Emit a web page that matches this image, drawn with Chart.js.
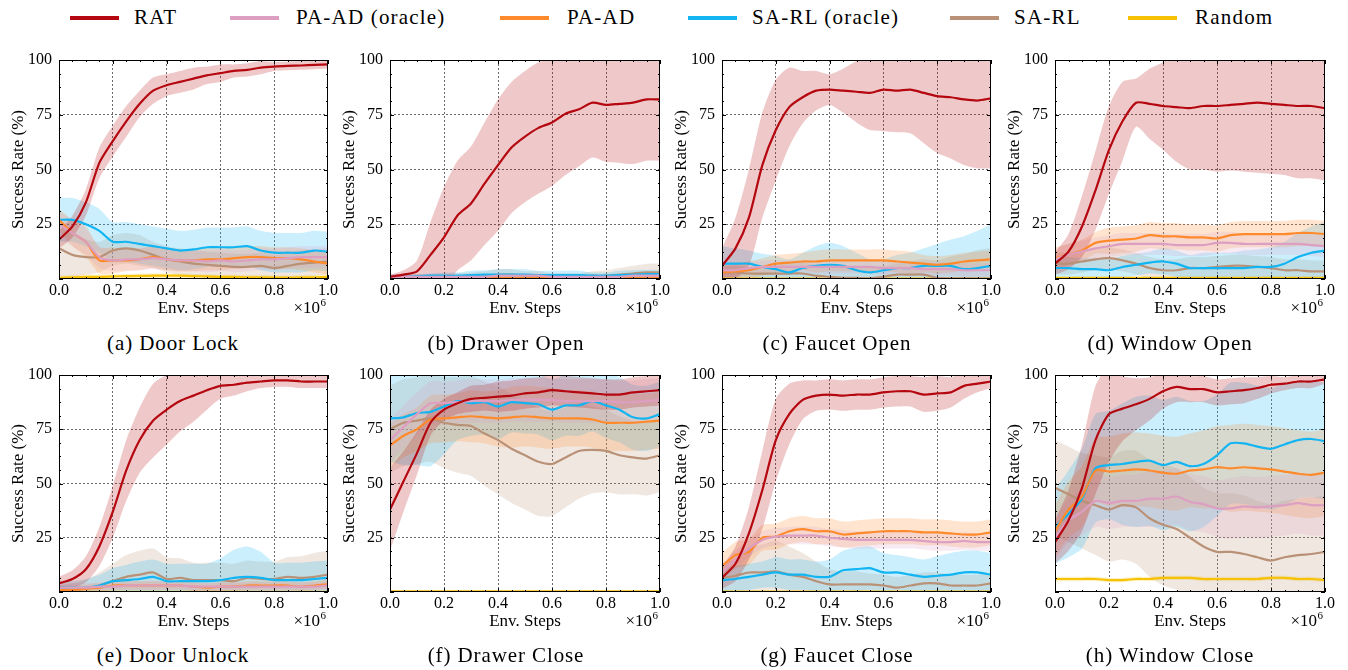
<!DOCTYPE html>
<html>
<head>
<meta charset="utf-8">
<script src="https://cdn.jsdelivr.net/npm/chart.js@4.4.1/dist/chart.umd.min.js"></script>
<style>
  html, body { margin:0; padding:0; background:#fff; }
  body { width:1348px; height:670px; position:relative; overflow:hidden; font-family:"Liberation Serif", "Times New Roman", serif; color:#000; }
  canvas { position:absolute; }
  .leg-line { position:absolute; height:4px; top:16px; }
  .leg-text { position:absolute; top:4px; font-size:21px; line-height:26px; letter-spacing:1.2px; white-space:nowrap; }
  .caption { position:absolute; font-size:21px; line-height:24px; letter-spacing:0.9px; white-space:nowrap; transform:translateX(-50%); }
</style>
</head>
<body>
<script>
// ---------------- data ----------------
const steps = [0,0.05,0.1,0.15,0.2,0.25,0.3,0.35,0.4,0.45,0.5,0.55,0.6,0.65,0.7,0.75,0.8,0.85,0.9,0.95,1.0];
const seriesNames = ['RAT','PA-AD (oracle)','PA-AD','SA-RL (oracle)','SA-RL','Random'];
const seriesColors = ['#b5070f','#dc9fc2','#ff8a2b','#12b5f2','#b99176','#f7c204'];
const panelTitles = ['(a) Door Lock','(b) Drawer Open','(c) Faucet Open','(d) Window Open','(e) Door Unlock','(f) Drawer Close','(g) Faucet Close','(h) Window Close'];
const xTickValues = [0,0.2,0.4,0.6,0.8,1.0];
const yTickValues = [25,50,75,100];

// (a) Door Lock
const doorLockRAT   = [18,24,35,53,63,72,80,86,88.5,90,91.5,93,94,95,95.5,96.5,97,97.3,97.5,97.8,98];
const doorLockRATsd = [4,5,6,7,7,7,6,6,5,5,5,4,4,3,3,3,2,2,2,2,2];
const doorLockPAo   = [25,21,17,10,8.5,9,9,9.5,9,8.5,8.5,8,8.5,8,8.5,9,9,9.5,10,10,10];
const doorLockPAosd = [6,6,6,5,5,5,5,5,5,5,5,5,5,5,5,5,5,5,5,5,5];
const doorLockPA    = [27,21,17,8.5,8.5,8.5,9,10,9,8.5,8.5,9,9,9.5,10,10,9.5,9.5,9,8,7];
const doorLockPAsd  = [5,6,7,6,6,5,5,5,5,5,5,5,5,5,5,5,5,5,5,5,5];
const doorLockSAo   = [27,27,25,22,17,17,16,15,14,13,13.5,14.5,14.5,14.5,15,13,12,12,12,13,12.5];
const doorLockSAosd = [10,10,10,10,9,9,9,9,9,9,9,9,9,9,9,9,9,9,9,9,9];
const doorLockSA    = [14,11,10,10,13,14,13,11,9,8,7,6.5,6,5.5,5.5,6,5,6,7,7.5,8];
const doorLockSAsd  = [13,10,8,7,7,7,7,6,6,6,6,6,6,6,6,6,6,6,6,6,6];
const doorLockRnd   = [0.5,0.8,1,1,1.2,1.3,1.4,1.5,1.5,1.5,1.3,1.2,1,1,0.8,0.8,0.6,0.6,0.7,0.8,1];
const doorLockRndsd = [1,1,1,1,1,1,1,1,1,1,1,1,1,1,1,1,1,1,1,1,1];

// (b) Drawer Open
const drawerOpenRAT   = [1,2,3.5,11,19,29,34.5,43.5,52,60,65,69,71.5,75.5,77.5,80.5,79.5,80,80.5,82,82];
const drawerOpenRATsd = [1,2,5,15,23,25,26,28,30,30,30,30,29,28,26,25,26,27,28,28,28];
const drawerOpenPAo   = [1,1,1,1,1,1,1,1,1.5,1.5,1.5,1.5,1,1,1,1,1,1,1.5,1.5,1.5];
const drawerOpenPAosd = [1,1,1,1,1,1,1,1,1,1,1,1,1,1,1,1,1,1,1,1,1];
const drawerOpenPA    = [0.5,0.5,0.5,0.5,0.5,0.5,0.5,0.5,0.5,0.5,0.5,0.5,0.5,0.5,0.5,0.5,0.5,0.5,0.5,0.5,0.5];
const drawerOpenPAsd  = [0.5,0.5,0.5,0.5,0.5,0.5,0.5,0.5,0.5,0.5,0.5,0.5,0.5,0.5,0.5,0.5,0.5,0.5,0.5,0.5,0.5];
const drawerOpenSAo   = [1,1,1.2,1.5,1.5,1.5,1.8,2,2,2,2,1.8,1.8,1.8,1.8,1.5,1.5,1.8,2,2.2,2.2];
const drawerOpenSAosd = [1,1,1,1,1.5,1.5,2,2,2.5,2.5,2.5,2,2,2,2,1.5,1.5,2,2,2,2];
const drawerOpenSA    = [1,1,1,1,1,1.2,1.5,1.5,2,2,1.5,1.5,1.2,1.2,1.2,1.5,1.5,2,2.5,3,3];
const drawerOpenSAsd  = [1,1,1,1,1,1.5,1.5,2,2.5,2.5,2,2,1.5,1.5,1.5,2,2.5,3,3.5,4,4];
const drawerOpenRnd   = [0.1,0.1,0.1,0.1,0.1,0.1,0.1,0.1,0.1,0.1,0.1,0.1,0.1,0.1,0.1,0.1,0.1,0.1,0.1,0.1,0.1];
const drawerOpenRndsd = [0.3,0.3,0.3,0.3,0.3,0.3,0.3,0.3,0.3,0.3,0.3,0.3,0.3,0.3,0.3,0.3,0.3,0.3,0.3,0.3,0.3];

// (c) Faucet Open
const faucetOpenRAT   = [6,14,28,52,68,78.5,83,86,86.5,86,85.5,85,86.5,86,86.5,85,83.5,83,82,81.5,82.5];
const faucetOpenRATsd = [8,14,22,24,23,18,12,9,7,10,14,17,19,19,20,23,26,28,30,31,32];
const faucetOpenPAo   = [4,4,5,5.5,5.5,5.5,5.5,5.5,5.5,5.5,5.5,5.5,5,5,5,4.5,4.5,4.5,4,4,4];
const faucetOpenPAosd = [3,3,3,3,3,3,3,3,3,3,3,3,3,3,3,3,3,3,3,3,3];
const faucetOpenPA    = [3,3.5,4,5.5,7,7.5,8,8,8.5,8.5,8.5,8.5,8.5,8,7.5,7,6.5,7,8,8.5,9];
const faucetOpenPAsd  = [3,3,4,4,4,4,4,5,5,5,5,5,5,5,5,4,4,4,4,4,4];
const faucetOpenSAo   = [7,7,7,5.5,4.5,3,5,6,6.5,6,4,3,4,5,5,6,6,6,4.5,5,6];
const faucetOpenSAosd = [8,7,6,6,6,6,7,9,10,9,8,6,5,6,7,8,10,12,15,17,19];
const faucetOpenSA    = [3,3,2.5,2.5,2.5,2.5,2.5,1.5,1,0.5,0.5,0.3,1,2,2,2,0.5,0.3,0.3,0.2,0.2];
const faucetOpenSAsd  = [3,3,3,3,4,5,5,5,5,5,5,5,5,5,6,7,8,10,11,13,14];
const faucetOpenRnd   = [0.2,0.2,0.2,0.2,0.2,0.2,0.2,0.2,0.2,0.2,0.2,0.2,0.2,0.2,0.2,0.2,0.2,0.2,0.2,0.2,0.2];
const faucetOpenRndsd = [0.3,0.3,0.3,0.3,0.3,0.3,0.3,0.3,0.3,0.3,0.3,0.3,0.3,0.3,0.3,0.3,0.3,0.3,0.3,0.3,0.3];

// (d) Window Open
const windowOpenRAT   = [7,12.5,24,40.5,59,72,80.5,80,79,78.5,78,79,79,79.5,80,80.5,80,79.5,79,79,78];
const windowOpenRATsd = [5,8,14,18,20,18,11,16,20,25,28,29,30,30,31,32,32,32,33,33,33];
const windowOpenPAo   = [9,11,12.5,14,15,16,16,16,16,15.5,15.5,15.5,16.5,16.5,16,16,16,16,16,15.5,15];
const windowOpenPAosd = [5,5,5,5,5,5,5,5,5,5,5,5,5,5,5,5,5,5,5,5,5];
const windowOpenPA    = [9.5,11,13,16.5,17.5,18,18.5,20,19.5,19.5,19,19,18.5,20,20.5,20.5,20.5,20.5,21,21,20.5];
const windowOpenPAsd  = [5,5,5,5,6,6,6,6,6,6,6,6,6,6,6,6,6,6,6,6,6];
const windowOpenSAo   = [5,5,4.5,4.5,4,5.5,6.5,7.5,8,7,5,5,5,5,5,5.5,5.5,7,10,12,13];
const windowOpenSAosd = [5,5,5,5,5,5,5,5,6,6,6,7,7,7,8,8,9,10,11,12,13];
const windowOpenSA    = [7,7,8,9,9.5,8.5,7,5,4,4,5,5,5.5,6,6,5.5,5,4,4,3.5,3.5];
const windowOpenSAsd  = [5,5,5,5,5,5,5,5,5,5,5,5,5,5,5,5,5,5,5,5,5];
const windowOpenRnd   = [0.5,0.5,0.5,0.5,0.5,0.5,0.5,0.5,0.5,0.5,0.5,0.5,0.5,0.5,0.5,0.5,0.5,0.5,0.5,0.5,0.5];
const windowOpenRndsd = [0.5,0.5,0.5,0.5,0.5,0.5,0.5,0.5,0.5,0.5,0.5,0.5,0.5,0.5,0.5,0.5,0.5,0.5,0.5,0.5,0.5];

// (e) Door Unlock
const doorUnlockRAT   = [4,6,10.5,21,37,56,70,79,84,88,90.5,93,95,95.5,96.5,97,97.5,97.5,97,97,97];
const doorUnlockRATsd = [3,4,6,9,12,14,15,17,16,14,12,9,6,5,4,3,3,3,3,3,3];
const doorUnlockPAo   = [2,2,2,2.5,2.5,3,3,3,3,3,2.5,2.5,2.5,2.5,2.5,2.5,2.5,2.5,2.5,2.5,3];
const doorUnlockPAosd = [2,2,2,2,2,2,2,2,2,2,2,2,2,2,2,2,2,2,2,2,2];
const doorUnlockPA    = [1,1,1.5,2,3,3,3,3,3,3,2.5,2,2.5,2.5,3,3,3,3,2.5,3,3.5];
const doorUnlockPAsd  = [2,2,2,2,2,2,2,2,2,2,2,2,2,2,2,2,2,2,2,2,2];
const doorUnlockSAo   = [2,2,2,3,5,5.5,6,7,5,5,5,5,5.5,6.5,7,6.5,5.5,5.5,5.5,6,6.5];
const doorUnlockSAosd = [3,3,4,5,6,7,8,8,8,8,8,8,10,13,14,12,8,8,8,8,8];
const doorUnlockSA    = [1,1,1.5,3,5,7,8,9,6,6.5,5.5,5.5,5.5,5,6.5,6,6,7,6.5,7,8];
const doorUnlockSAsd  = [2,3,4,6,8,10,11,11,10,9,8,8,8,8,8,8,8,9,10,11,11];
const doorUnlockRnd   = [0.1,0.1,0.1,0.1,0.1,0.1,0.1,0.1,0.1,0.1,0.1,0.1,0.1,0.1,0.1,0.1,0.1,0.1,0.1,0.1,0.1];
const doorUnlockRndsd = [0.3,0.3,0.3,0.3,0.3,0.3,0.3,0.3,0.3,0.3,0.3,0.3,0.3,0.3,0.3,0.3,0.3,0.3,0.3,0.3,0.3];

// (f) Drawer Close
const drawerCloseRAT   = [38,51,64,78,84,87,89,89.5,90,90.5,91.5,92,93,92.5,92,91.5,91,91,92,92.5,93];
const drawerCloseRATsd = [19,14,10,6,5,5,6,6,7,7,7,7,7,7,7,7,7,7,7,7,7];
const drawerClosePAo   = [70,76,82,87,87,87.5,88,88,88,88.5,88.5,88.5,88.5,88,88,88,88,87.5,87.5,88,88.5];
const drawerClosePAosd = [10,10,10,10,10,10,10,10,10,10,10,10,10,10,10,10,10,10,10,10,10];
const drawerClosePA    = [67.5,72,75,79.5,80,80.5,81,80.5,80,80.5,81,80.5,80,80,80,79.5,78,78,78,78.5,79];
const drawerClosePAsd  = [10,10,10,11,11,11,12,12,13,14,14,14,14,13,13,13,13,13,13,13,13];
const drawerCloseSAo   = [80,80.5,82.5,83,85.5,88,87,87.5,85.5,87.5,87,86.5,84,86,86,88,86,84,80.5,80,82];
const drawerCloseSAosd = [20,22,24,25,22,18,15,15,15,14,14,14,14,14,14,14,15,15,15,15,15];
const drawerCloseSA    = [75,78,79,80,78,77,76.5,73,70,66,63,60,59,62,65,65.5,65,63,62,61.5,63];
const drawerCloseSAsd  = [20,20,20,20,21,22,23,24,25,25,25,25,24,23,22,20,19,18,17,17,17];
const drawerCloseRnd   = [0.3,0.3,0.3,0.3,0.3,0.3,0.3,0.3,0.3,0.3,0.3,0.3,0.3,0.3,0.3,0.3,0.3,0.3,0.3,0.3,0.3];
const drawerCloseRndsd = [0.3,0.3,0.3,0.3,0.3,0.3,0.3,0.3,0.3,0.3,0.3,0.3,0.3,0.3,0.3,0.3,0.3,0.3,0.3,0.3,0.3];

// (g) Faucet Close
const faucetCloseRAT   = [6.5,13,27,47,70,82,88.5,90.5,91,90.5,91,91,92,92.5,92.5,91,91.5,92,95,96,97];
const faucetCloseRATsd = [5,8,12,18,19,14,9,7,7,7,7,7,7,7,7,8,8,7,6,4,3];
const faucetClosePAo   = [9,15,20,24,25.5,26,26,26,25,24.5,24,24,24,24,24,23.5,23,23,23.5,23,23];
const faucetClosePAosd = [4,4,4,4,4,4,4,4,4,4,4,4,4,4,4,4,4,4,4,4,4];
const faucetClosePA    = [12,17,18.5,25,25.5,28,29,28,28,26.5,27,27.5,28,28,28,27.5,27.5,27,26.5,26.5,27.5];
const faucetClosePAsd  = [6,6,6,6,6,6,6,6,6,6,6,6,6,6,6,6,6,6,6,6,6];
const faucetCloseSAo   = [5.5,6,7,8,9,8,8,7,7,10,10.5,11,9,9,8,7,7.5,8,9,9,8];
const faucetCloseSAosd = [5,6,6,6,7,7,7,7,8,9,10,10,9,8,8,8,9,10,10,10,10];
const faucetCloseSA    = [6.5,7.5,9,9,9.5,8,7,5,3.5,3.5,3.5,3.5,3,2,3,4,4,3,3,3,4];
const faucetCloseSAsd  = [6,8,11,13,14,13,11,9,7,6,6,5,5,5,5,5,5,5,5,5,5];
const faucetCloseRnd   = [0.2,0.2,0.2,0.2,0.2,0.2,0.2,0.2,0.2,0.2,0.2,0.2,0.2,0.2,0.2,0.2,0.2,0.2,0.2,0.2,0.2];
const faucetCloseRndsd = [0.3,0.3,0.3,0.3,0.3,0.3,0.3,0.3,0.3,0.3,0.3,0.3,0.3,0.3,0.3,0.3,0.3,0.3,0.3,0.3,0.3];

// (h) Window Close
const windowCloseRAT   = [23,33,48,70,82,84.5,86.5,89,92.5,94.5,93.5,93.5,92,92.5,93,94,95.5,96,97,97,98];
const windowCloseRATsd = [10,14,20,25,22,15,12,10,8,7,6,6,6,6,6,5,4,3,3,3,2];
const windowClosePAo   = [25,33,37,42,41,42,42,43,43,44,41.5,40.5,38.5,38.5,39.5,39,39.5,40,41,40,40];
const windowClosePAosd = [10,10,11,12,12,12,12,13,13,13,13,13,13,14,14,14,14,14,14,14,14];
const windowClosePA    = [28,38,44,56,55.5,56,56.5,56,55,54.5,56,56.5,57.5,57,57.5,57,56.5,55.5,54.5,54,55];
const windowClosePAsd  = [12,13,14,15,16,17,17,17,17,17,17,18,19,20,20,20,20,20,20,20,20];
const windowCloseSAo   = [30,36,43,57,58.5,59,60,60.5,58.5,60,58,59,63,68.5,68.5,67,66,68,70,70.5,69.5];
const windowCloseSAosd = [17,20,23,25,25,28,30,30,30,30,30,29,28,28,28,28,28,28,27,27,27];
const windowCloseSA    = [48,45,42,40,38,40,39,34,31,29,25,21,18.5,18.5,17.5,16,14.5,16,17,17.5,18.5];
const windowCloseSAsd  = [22,22,22,23,24,25,26,27,28,28,28,27,27,27,27,26,26,26,26,26,26];
const windowCloseRnd   = [6,6,6,6,5.5,5.5,6,6,6.5,6.5,6.5,6,6,6,6,6,6.5,6.5,6,6,5.5];
const windowCloseRndsd = [1,1,1,1,1,1,1,1,1,1,1,1,1,1,1,1,1,1,1,1,1];

// --------------- assemble ----------------
const panels = [
  { means:[doorLockRAT,doorLockPAo,doorLockPA,doorLockSAo,doorLockSA,doorLockRnd], sds:[doorLockRATsd,doorLockPAosd,doorLockPAsd,doorLockSAosd,doorLockSAsd,doorLockRndsd] },
  { means:[drawerOpenRAT,drawerOpenPAo,drawerOpenPA,drawerOpenSAo,drawerOpenSA,drawerOpenRnd], sds:[drawerOpenRATsd,drawerOpenPAosd,drawerOpenPAsd,drawerOpenSAosd,drawerOpenSAsd,drawerOpenRndsd] },
  { means:[faucetOpenRAT,faucetOpenPAo,faucetOpenPA,faucetOpenSAo,faucetOpenSA,faucetOpenRnd], sds:[faucetOpenRATsd,faucetOpenPAosd,faucetOpenPAsd,faucetOpenSAosd,faucetOpenSAsd,faucetOpenRndsd] },
  { means:[windowOpenRAT,windowOpenPAo,windowOpenPA,windowOpenSAo,windowOpenSA,windowOpenRnd], sds:[windowOpenRATsd,windowOpenPAosd,windowOpenPAsd,windowOpenSAosd,windowOpenSAsd,windowOpenRndsd] },
  { means:[doorUnlockRAT,doorUnlockPAo,doorUnlockPA,doorUnlockSAo,doorUnlockSA,doorUnlockRnd], sds:[doorUnlockRATsd,doorUnlockPAosd,doorUnlockPAsd,doorUnlockSAosd,doorUnlockSAsd,doorUnlockRndsd] },
  { means:[drawerCloseRAT,drawerClosePAo,drawerClosePA,drawerCloseSAo,drawerCloseSA,drawerCloseRnd], sds:[drawerCloseRATsd,drawerClosePAosd,drawerClosePAsd,drawerCloseSAosd,drawerCloseSAsd,drawerCloseRndsd] },
  { means:[faucetCloseRAT,faucetClosePAo,faucetClosePA,faucetCloseSAo,faucetCloseSA,faucetCloseRnd], sds:[faucetCloseRATsd,faucetClosePAosd,faucetClosePAsd,faucetCloseSAosd,faucetCloseSAsd,faucetCloseRndsd] },
  { means:[windowCloseRAT,windowClosePAo,windowClosePA,windowCloseSAo,windowCloseSA,windowCloseRnd], sds:[windowCloseRATsd,windowClosePAosd,windowClosePAsd,windowCloseSAosd,windowCloseSAsd,windowCloseRndsd] }
];

// --------------- layout ----------------
const FONT = '"Liberation Serif", "Times New Roman", serif';
const plotLeft = [59, 390, 722, 1055];
const plotW = [269, 270, 269, 270];
const plotTop = [60, 375];
const plotH = [219, 217];
const captionX = [173, 506, 837, 1170];
const captionY = [331, 643];
const Y_AXIS_W = 59, X_AXIS_H = 50, PAD_T = 18, PAD_R = 18;

const legendLineX = [70, 230, 500, 688, 950, 1128];
const legendTextX = [134, 296, 567, 752, 1014, 1195];

function hexToRgba(hex, a) {
  const n = parseInt(hex.slice(1), 16);
  return `rgba(${(n>>16)&255},${(n>>8)&255},${n&255},${a})`;
}

// legend
seriesNames.forEach((name, i) => {
  const l = document.createElement('div');
  l.className = 'leg-line';
  l.style.left = legendLineX[i] + 'px';
  l.style.width = '49px';
  l.style.background = seriesColors[i];
  document.body.appendChild(l);
  const t = document.createElement('div');
  t.className = 'leg-text';
  t.style.left = legendTextX[i] + 'px';
  t.textContent = name;
  document.body.appendChild(t);
});

const framePlugin = {
  id: 'frame',
  afterDraw(chart) {
    const { ctx, chartArea: a, scales: { x, y } } = chart;
    ctx.save();
    ctx.strokeStyle = '#000';
    ctx.lineWidth = 1;
    ctx.beginPath();
    for (let k = 0; k <= 20; k++) {
      const v = k * 0.05;
      const px = Math.round(x.getPixelForValue(v)) + 0.5;
      const len = (k % 4 === 0) ? 4 : 2;
      ctx.moveTo(px, a.bottom); ctx.lineTo(px, a.bottom - len);
      ctx.moveTo(px, a.top); ctx.lineTo(px, a.top + len);
    }
    for (let k = 0; k <= 16; k++) {
      const v = k * 6.25;
      const py = Math.round(y.getPixelForValue(v)) + 0.5;
      const len = (k % 4 === 0) ? 4 : 2;
      ctx.moveTo(a.left, py); ctx.lineTo(a.left + len, py);
      ctx.moveTo(a.right, py); ctx.lineTo(a.right - len, py);
    }
    ctx.stroke();
    ctx.strokeRect(Math.round(a.left) + 0.5, Math.round(a.top) + 0.5, Math.round(a.right - a.left) - 1, Math.round(a.bottom - a.top) - 1);
    ctx.fillStyle = '#000';
    ctx.textAlign = 'right';
    ctx.textBaseline = 'alphabetic';
    const r = a.right - 2, base = a.bottom + 34;
    ctx.font = '11px ' + FONT;
    ctx.fillText('6', r, base - 7);
    const w6 = ctx.measureText('6').width;
    ctx.font = '17px ' + FONT;
    ctx.fillText('\u00d710', r - w6 - 0.5, base);
    ctx.restore();
  }
};

panels.forEach((p, idx) => {
  const col = idx % 4, row = Math.floor(idx / 4);
  const cw = Y_AXIS_W + plotW[col] + PAD_R;
  const ch = PAD_T + plotH[row] + X_AXIS_H;
  const canvas = document.createElement('canvas');
  canvas.width = cw; canvas.height = ch;
  canvas.style.left = (plotLeft[col] - Y_AXIS_W) + 'px';
  canvas.style.top = (plotTop[row] - PAD_T) + 'px';
  canvas.style.width = cw + 'px';
  canvas.style.height = ch + 'px';
  document.body.appendChild(canvas);

  const cap = document.createElement('div');
  cap.className = 'caption';
  cap.style.left = captionX[col] + 'px';
  cap.style.top = captionY[row] + 'px';
  cap.textContent = panelTitles[idx];
  document.body.appendChild(cap);

  const lineSets = p.means.map((m, i) => ({
    label: seriesNames[i],
    data: steps.map((x, j) => ({ x, y: m[j] })),
    borderColor: seriesColors[i],
    borderWidth: 2.2,
    pointRadius: 0,
    fill: false,
    tension: 0.25
  }));
  const bandSets = [];
  p.means.forEach((m, i) => {
    const sd = p.sds[i];
    bandSets.push({
      label: seriesNames[i] + ' upper',
      data: steps.map((x, j) => ({ x, y: m[j] + sd[j] })),
      borderColor: 'rgba(0,0,0,0)', borderWidth: 0, pointRadius: 0, fill: false, tension: 0.25
    });
    bandSets.push({
      label: seriesNames[i] + ' lower',
      data: steps.map((x, j) => ({ x, y: m[j] - sd[j] })),
      borderColor: 'rgba(0,0,0,0)', borderWidth: 0, pointRadius: 0,
      fill: '-1', backgroundColor: hexToRgba(seriesColors[i], 0.22), tension: 0.25
    });
  });

  new Chart(canvas, {
    type: 'line',
    data: { datasets: lineSets.concat(bandSets) },
    options: {
      responsive: false,
      animation: false,
      devicePixelRatio: 1,
      layout: { padding: { top: PAD_T, right: PAD_R, bottom: 0, left: 0 } },
      plugins: { legend: { display: false }, tooltip: { enabled: false } },
      scales: {
        x: {
          type: 'linear', min: 0, max: 1,
          afterBuildTicks: s => { s.ticks = xTickValues.map(v => ({ value: v })); },
          afterFit: s => { s.height = X_AXIS_H; },
          ticks: { callback: v => Number(v).toFixed(1), font: { family: FONT, size: 16 }, color: '#000', padding: 2, maxRotation: 0, autoSkip: false },
          grid: { drawTicks: false, lineWidth: 0.8, color: c => (c.tick && c.tick.value > 0.001 && c.tick.value < 0.999) ? '#444' : 'rgba(0,0,0,0)' },
          border: { display: false, dash: [2, 2] },
          title: { display: true, text: 'Env. Steps', font: { family: FONT, size: 17 }, color: '#000', padding: { top: 0, bottom: 10 } }
        },
        y: {
          min: 0, max: 100,
          afterBuildTicks: s => { s.ticks = yTickValues.map(v => ({ value: v })); },
          afterFit: s => { s.width = Y_AXIS_W; },
          ticks: { font: { family: FONT, size: 16 }, color: '#000', padding: 7 },
          grid: { drawTicks: false, lineWidth: 0.8, color: c => (c.tick && c.tick.value < 99.9) ? '#444' : 'rgba(0,0,0,0)' },
          border: { display: false, dash: [2, 2] },
          title: { display: true, text: 'Success Rate (%)', font: { family: FONT, size: 17 }, color: '#000', padding: { top: 8, bottom: 0 } }
        }
      }
    },
    plugins: [framePlugin]
  });
});
</script>
</body>
</html>
